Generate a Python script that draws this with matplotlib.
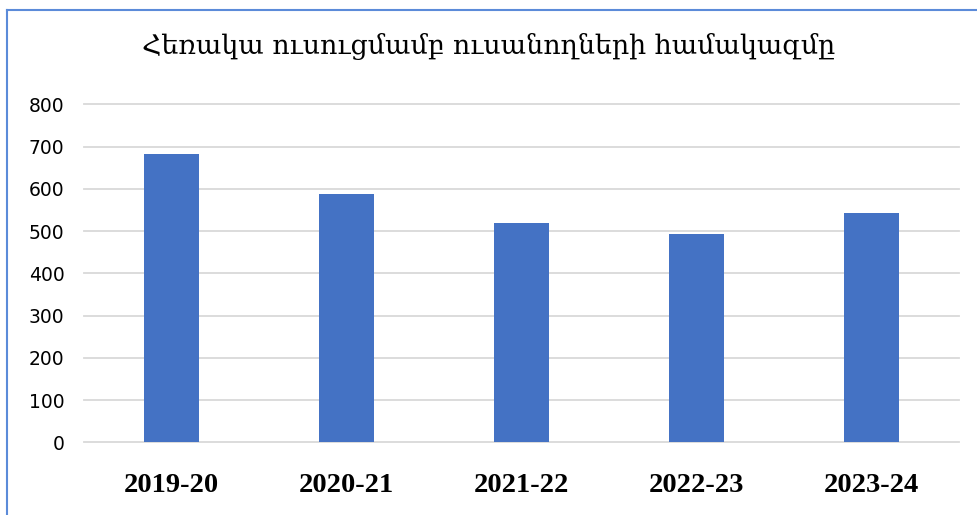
import matplotlib
matplotlib.use("Agg")
import matplotlib.pyplot as plt
from matplotlib.lines import Line2D

categories = ["2019-20", "2020-21", "2021-22", "2022-23", "2023-24"]
values = [682, 587, 518, 492, 542]
yticks = [0, 100, 200, 300, 400, 500, 600, 700, 800]
title = "Հեռակա ուսուցմամբ ուսանողների համակազմը"

W, H = 978, 515
fig = plt.figure(figsize=(W / 100, H / 100), dpi=100)
fig.patch.set_facecolor("white")

ax = fig.add_axes([84 / W, 1 - 442.3 / H, (959 - 84) / W, (442.3 - 104.3) / H])
x = range(len(categories))
ax.bar(x, values, width=0.314, color="#4472C4", zorder=3)
ax.set_xlim(-0.5, len(categories) - 0.5)
ax.set_ylim(0, 800)
ax.set_yticks(yticks)
ax.set_yticklabels([str(v) for v in yticks], fontsize=13.5, family="DejaVu Sans", color="#000000")
ax.set_xticks(list(x))
ax.set_xticklabels(categories, fontsize=20.5, family="Liberation Serif", fontweight="bold")
ax.tick_params(axis="both", length=0)
ax.tick_params(axis="y", pad=14)
ax.tick_params(axis="x", pad=22)
ax.grid(axis="y", color="#d9d9d9", linewidth=1.3, zorder=0)
for gl in ax.get_ygridlines():
    gl.set_clip_on(False)
for s in ax.spines.values():
    s.set_visible(False)

fig.text(0.5, 1 - 47 / H, title, ha="center", va="center", fontsize=19.4, family="DejaVu Serif")

fig.add_artist(Line2D([7.5 / W, 7.5 / W], [0, 1 - 10 / H], transform=fig.transFigure, color="#5B8BD9", linewidth=1.5))
fig.add_artist(Line2D([7.5 / W, 1], [1 - 10 / H, 1 - 10 / H], transform=fig.transFigure, color="#5B8BD9", linewidth=1.5))

fig.savefig("out.png", dpi=100, facecolor="white")
